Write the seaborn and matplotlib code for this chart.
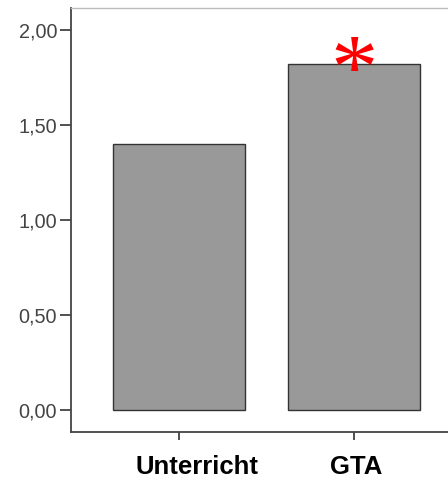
import matplotlib
matplotlib.use("Agg")
import matplotlib.pyplot as plt
import matplotlib.transforms as mtransforms
import seaborn as sns
import pandas as pd

categories = ["Unterricht", "GTA"]
values = [1.40, 1.82]
y_ticks = [0.0, 0.5, 1.0, 1.5, 2.0]
y_tick_labels = ["0,00", "0,50", "1,00", "1,50", "2,00"]
sig_marker = "*"

sns.set_style("ticks")
plt.rcParams["font.family"] = ["Liberation Sans", "DejaVu Sans"]

df = pd.DataFrame({"cat": categories, "val": values})

fig = plt.figure(figsize=(4.48, 4.78), dpi=100)
ax = fig.add_axes([71/448, 46/478, 1 - 71/448 + 0.01, (432 - 8)/478])

sns.barplot(data=df, x="cat", y="val", ax=ax, color="#999999", saturation=1,
            edgecolor="#333333", linewidth=1.0, width=0.754, errorbar=None)

ax.set_xlim(-0.617, 1.56)
ax.set_ylim(-0.116, 2.116)
ax.set_yticks(y_ticks)
ax.set_yticklabels(y_tick_labels, fontsize=14.3, color="#444444")
ax.set_xticks(range(len(categories)))
ax.set_xticklabels(categories, fontsize=18.5, fontweight="bold", color="black")
ax.set_xlabel("")
ax.set_ylabel("")
ax.tick_params(axis="y", length=8, width=1.2, color="#333333", pad=2)
ax.tick_params(axis="x", length=6, width=1.2, color="#333333", pad=10.5)
for s in ["left", "bottom"]:
    ax.spines[s].set_color("#444444")
    ax.spines[s].set_linewidth(1.3)
ax.spines["top"].set_color("#bbbbbb")
ax.spines["top"].set_linewidth(1.0)
ax.spines["right"].set_visible(False)

# label offsets as in the reference
shifts = [18, 2]
for lab, dx in zip(ax.get_xticklabels(), shifts):
    lab.set_transform(lab.get_transform() +
                      mtransforms.ScaledTranslation(dx / 100, 0, fig.dpi_scale_trans))

ax.text(1, 1.76, sig_marker, ha="center", va="center", color="red",
        fontsize=68, family=["Liberation Serif", "DejaVu Serif"])

fig.savefig("out.png", dpi=100)
